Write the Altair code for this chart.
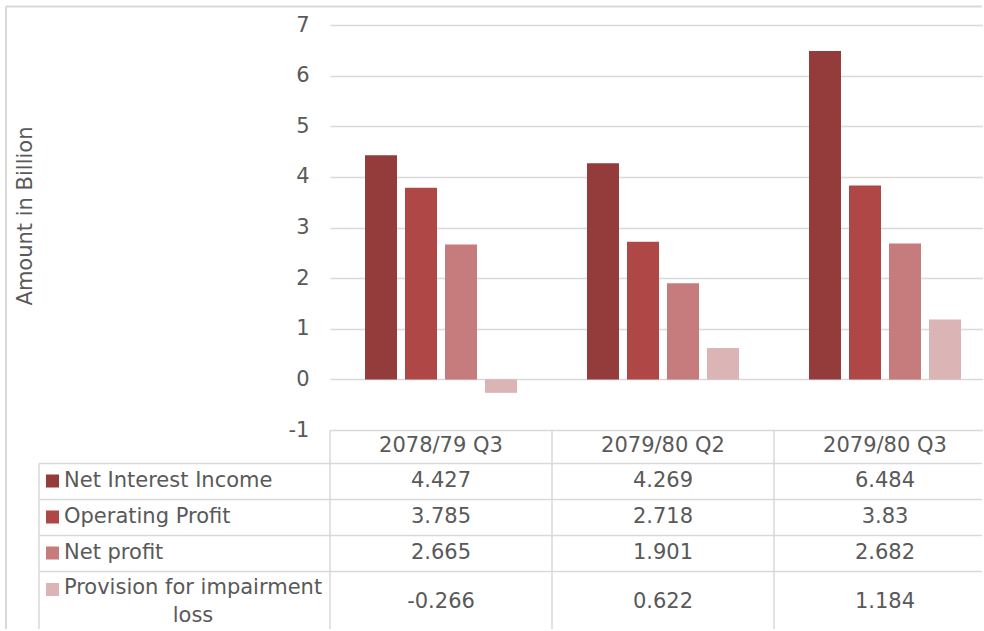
import altair as alt
import pandas as pd

# ---------------- data ----------------
quarters = ["2078/79 Q3", "2079/80 Q2", "2079/80 Q3"]
series = ["Net Interest Income", "Operating Profit", "Net profit", "Provision for impairment loss"]
series_labels = ["Net Interest Income", "Operating Profit", "Net profit", "Provision for impairment\nloss"]
net_interest_income = [4.427, 4.269, 6.484]
operating_profit = [3.785, 2.718, 3.83]
net_profit = [2.665, 1.901, 2.682]
provision_impairment = [-0.266, 0.622, 1.184]
y_ticks = [-1, 0, 1, 2, 3, 4, 5, 6, 7]
colors = ["#943B3B", "#B04747", "#C67B7C", "#DBB4B5"]

FONT = "DejaVu Sans"
FS = 21
GREY = "#595959"
LINE = "#D9D9D9"
W = 652
H_TOP = 405
H_BOT = 199

all_values = [net_interest_income, operating_profit, net_profit, provision_impairment]
records = []
for i, (s, vals) in enumerate(zip(series, all_values)):
    for q, v in zip(quarters, vals):
        records.append({"series": s, "quarter": q, "value": v, "row": i + 1, "text": f"{v:g}"})
df = pd.DataFrame(records)

header_df = pd.DataFrame({"quarter": quarters, "row": [0] * len(quarters), "text": quarters})
legend_df = pd.DataFrame({
    "series": series,
    "label": series_labels,
    "row": list(range(1, len(series) + 1)),
    "lines": [lab.count("\n") + 1 for lab in series_labels],
})

x_scale = alt.Scale(domain=quarters, range=[0, 666], paddingInner=0, paddingOuter=0)
color_scale = alt.Scale(domain=series, range=colors)
one = pd.DataFrame({"k": [0]})

# ---------------- top: bar chart ----------------
bars = alt.Chart(df).mark_bar().encode(
    x=alt.X("quarter:N", scale=x_scale, sort=quarters, axis=None),
    xOffset=alt.XOffset("series:N", sort=series,
                        scale=alt.Scale(domain=series, paddingInner=0.2, paddingOuter=0.875)),
    y=alt.Y("value:Q",
            scale=alt.Scale(domain=[-1, 7], nice=False, zero=False),
            axis=alt.Axis(values=y_ticks, title="Amount in Billion", grid=True,
                          gridColor=LINE, gridWidth=1.5, domain=False, ticks=False,
                          tickSize=0, labelPadding=21, labelFlush=False,
                          labelExpr="'' + datum.value",
                          labelFont=FONT, labelFontSize=FS, labelColor=GREY,
                          titleFont=FONT, titleFontSize=FS, titleFontWeight="normal",
                          titleColor=GREY, titleX=-305, titleY=190.5, titleAngle=270,
                          titleAlign="center", titleBaseline="middle")),
    color=alt.Color("series:N", scale=color_scale, legend=None),
)

border_v = alt.Chart(one).mark_rule(color=LINE, strokeWidth=2).encode(
    x=alt.value(-324), y=alt.value(-18.5), y2=alt.value(H_TOP + H_BOT))
border_h = alt.Chart(one).mark_rule(color=LINE, strokeWidth=2).encode(
    x=alt.value(-324), x2=alt.value(W), y=alt.value(-18.5))

top = alt.layer(border_v, border_h, bars).properties(width=W, height=H_TOP)

# ---------------- bottom: data table ----------------
y_row = alt.Scale(domain=[0, 1, 2, 3, 4], range=[16, 51, 87, 123, 171.5], nice=False, zero=False)

layers = []
for yv in [33.5, 69.5, 105.5, 141.5]:
    layers.append(alt.Chart(one).mark_rule(color=LINE, strokeWidth=1.5).encode(
        x=alt.value(-291), x2=alt.value(W), y=alt.value(yv)))
layers.append(alt.Chart(one).mark_rule(color=LINE, strokeWidth=1.5).encode(
    x=alt.value(-291), y=alt.value(33.5), y2=alt.value(H_BOT)))
layers.append(alt.Chart(header_df).mark_rule(color=LINE, strokeWidth=1.5).encode(
    x=alt.X("quarter:N", scale=x_scale, bandPosition=0, axis=None),
    y=alt.value(0), y2=alt.value(H_BOT)))

text_kw = dict(font=FONT, fontSize=FS, color=GREY, baseline="middle")
layers.append(alt.Chart(header_df).mark_text(**text_kw).encode(
    x=alt.X("quarter:N", scale=x_scale, axis=None),
    y=alt.Y("row:Q", scale=y_row, axis=None),
    text="text:N"))
layers.append(alt.Chart(df).mark_text(**text_kw).encode(
    x=alt.X("quarter:N", scale=x_scale, axis=None),
    y=alt.Y("row:Q", scale=y_row, axis=None),
    text="text:N"))

# legend keys column
layers.append(alt.Chart(legend_df).transform_filter("datum.lines == 1").mark_text(
    align="left", **text_kw).encode(
    x=alt.value(-266), y=alt.Y("row:Q", scale=y_row, axis=None), text="label:N"))
layers.append(alt.Chart(legend_df).transform_filter("datum.lines > 1").mark_text(
    align="center", lineBreak="\n", lineHeight=28, dy=-14, **text_kw).encode(
    x=alt.value(-137), y=alt.Y("row:Q", scale=y_row, axis=None), text="label:N"))
layers.append(alt.Chart(legend_df).transform_filter("datum.lines == 1").mark_square(
    size=169, opacity=1).encode(
    x=alt.value(-277.5), y=alt.Y("row:Q", scale=y_row, axis=None),
    color=alt.Color("series:N", scale=color_scale, legend=None)))
layers.append(alt.Chart(legend_df).transform_filter("datum.lines > 1").mark_square(
    size=169, opacity=1).encode(
    x=alt.value(-277.5), y=alt.Y("row:Q", scale=y_row, axis=None),
    yOffset=alt.value(-12),
    color=alt.Color("series:N", scale=color_scale, legend=None)))

bottom = alt.layer(*layers).properties(width=W, height=H_BOT)

chart = alt.vconcat(top, bottom, spacing=0, bounds="flush").properties(
    padding={"left": 5, "top": 5, "right": 0, "bottom": 0}
).configure_view(strokeWidth=0)

chart.save("out.html", embed_options={"renderer": "svg", "actions": False})
